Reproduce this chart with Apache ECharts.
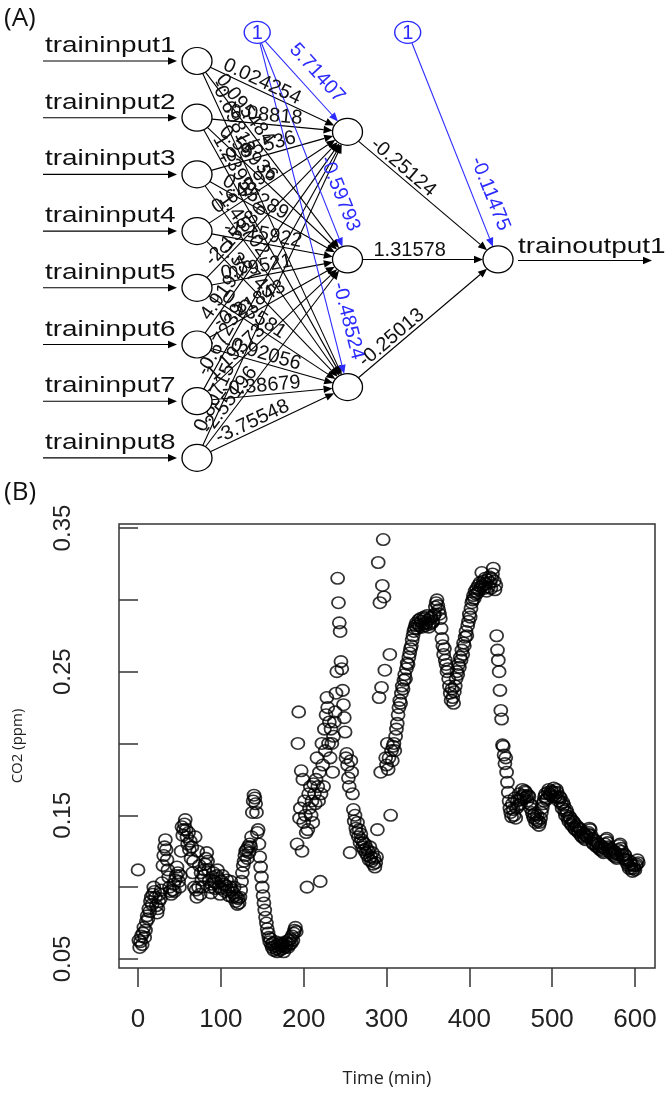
<!DOCTYPE html>
<html>
<head>
<meta charset="utf-8">
<style>
  html, body { margin: 0; padding: 0; background: #fff; }
  #chart { width: 668px; height: 1095px; }
</style>
<script src="https://cdn.jsdelivr.net/npm/echarts@6/dist/echarts.min.js"></script>
</head>
<body>
<div id="chart"></div>
<script>
// ---- (A) network: names and weights ----
const inputNames = ['traininput1', 'traininput2', 'traininput3', 'traininput4',
  'traininput5', 'traininput6', 'traininput7', 'traininput8'];
const outputNames = ['trainoutput1'];
const hiddenCount = 3;
// rows = input node, columns = hidden node
const wInputHidden = [
  [0.024254, 0.095484, -0.69818],
  [-0.08818, 0.55936, 1.23957],
  [-0.95536, 0.35289, -1.45702],
  [0.64393, -1.15922, 0.33745],
  [-2.15886, 0.79521, 0.63581],
  [4.91927, -0.21843, -0.92056],
  [-0.67239, 1.19373, -0.38679],
  [0.80715, -2.55196, -3.75548]
];
const wBiasHidden = [5.71407, -0.59793, -0.48524];
const wHiddenOutput = [-0.25124, 1.31578, -0.25013];
const wBiasOutput = [-0.11475];

// ---- (B) CO2 series, [time (min), CO2] ----
const co2Seg1 = [[0,0.112],[1,0.063],[2,0.058],[3,0.062],[4,0.066],[5,0.060],[6,0.068],[7,0.072],[8,0.065],[9,0.070],
  [10,0.076],[11,0.080],[12,0.078],[13,0.085],[14,0.083],[15,0.090],[16,0.093],[17,0.088],[18,0.095],[19,0.100],
  [20,0.097],[21,0.093],[22,0.087],[23,0.082],[24,0.085],[25,0.090],[26,0.095],[27,0.092],[28,0.098],[29,0.103],
  [30,0.115],[31,0.122],[32,0.128],[33,0.133],[34,0.126],[35,0.119],[36,0.112],[37,0.107],[38,0.100],[39,0.097],
  [40,0.095],[42,0.098],[43,0.102],[44,0.097],[45,0.105],[46,0.108],[47,0.114],[48,0.110],[49,0.104],[50,0.100],
  [51,0.108],[52,0.125],[53,0.142],[54,0.136],[55,0.140],[56,0.144],[57,0.147],[58,0.140],[59,0.135],[60,0.130],
  [61,0.138],[62,0.126],[63,0.132],[64,0.120],[65,0.128],[66,0.110],[67,0.118],[68,0.100],[69,0.135],[70,0.098],
  [71,0.093],[72,0.125],[73,0.100],[74,0.115],[75,0.095],[76,0.110],[77,0.105],[78,0.100],[79,0.108],[80,0.112],
  [81,0.116],[82,0.120],[83,0.124],[84,0.118],[85,0.112],[86,0.105],[87,0.100],[88,0.096],[89,0.102],[90,0.107],
  [91,0.110],[92,0.104],[93,0.099],[94,0.103],[95,0.108],[96,0.112],[97,0.106],[98,0.100],[99,0.095],[100,0.099],
  [101,0.104],[102,0.108],[104,0.102],[105,0.097],[106,0.101],[107,0.105],[108,0.098],[110,0.094],[111,0.100],[112,0.104],
  [113,0.098],[114,0.093],[115,0.096],[116,0.100],[117,0.094],[118,0.090],[119,0.093],[120,0.088],[121,0.092],[122,0.089],
  [123,0.093],[124,0.098],[125,0.104]];
const co2Seg2 = [[126,0.110],[127,0.115],[128,0.118],[129,0.122],[130,0.125],[131,0.126],[132,0.120],[133,0.128],[134,0.124],[135,0.130],
  [136,0.128],[137,0.135],[138,0.152],[139,0.160],[140,0.164],[141,0.162],[142,0.158],[143,0.152],[144,0.138],[145,0.140],
  [146,0.130],[147,0.121],[148,0.114],[149,0.107],[150,0.100],[151,0.094],[152,0.089],[153,0.084],[154,0.079],[155,0.075],
  [156,0.071],[157,0.068],[158,0.065],[159,0.062],[160,0.064],[161,0.060],[162,0.058],[163,0.061],[164,0.056],[165,0.059],
  [166,0.062],[167,0.057],[168,0.055],[169,0.060],[170,0.058],[171,0.056],[172,0.061],[173,0.059],[174,0.057],[175,0.060],
  [176,0.055],[177,0.058],[178,0.062],[179,0.059],[180,0.061],[181,0.058],[182,0.063],[183,0.060],[184,0.064],[185,0.061],
  [186,0.066],[187,0.063],[188,0.068],[189,0.070],[190,0.072],[191,0.069]];
const co2Seg3 = [[192,0.130],[193,0.200],[194,0.222],[195,0.148],[196,0.155],[197,0.181],[198,0.125],[199,0.175],[200,0.145],
  [201,0.160],[202,0.150],[203,0.138],[204,0.100],[205,0.140],[206,0.165],[207,0.155],[208,0.170],[209,0.150],[210,0.160],
  [211,0.145],[212,0.172],[213,0.165],[214,0.158],[215,0.175],[216,0.190],[217,0.170],[218,0.160],[219,0.180],[220,0.104],
  [221,0.165],[222,0.200],[223,0.185],[224,0.170],[225,0.210],[226,0.195],[227,0.220],[228,0.232],[229,0.225],[230,0.200],
  [231,0.215],[232,0.190],[233,0.210],[234,0.200],[235,0.180],[236,0.205],[237,0.215],[238,0.222],[239,0.235],[240,0.250],
  [241,0.315],[242,0.298],[243,0.284],[244,0.278],[245,0.257],[246,0.252],[247,0.237],[248,0.227],[249,0.218],[250,0.208],
  [251,0.190],[252,0.193],[253,0.185],[254,0.176],[255,0.170],[256,0.124],[257,0.188],[258,0.180],[259,0.165],[260,0.154],
  [261,0.146],[262,0.150],[263,0.141],[264,0.138],[265,0.145],[266,0.135],[267,0.140],[268,0.131],[269,0.137],[270,0.133],
  [271,0.128],[272,0.131],[273,0.126],[274,0.130],[275,0.124],[276,0.127],[277,0.122],[278,0.125],[279,0.119],[280,0.128],
  [281,0.121],[282,0.118],[283,0.124],[284,0.116],[285,0.120],[286,0.114],[287,0.117],[288,0.121],[289,0.140]];
const co2Seg4 = [[290,0.326],[291,0.232],[292,0.298],[293,0.180],[294,0.239],[295,0.310],[296,0.342],[297,0.302],[298,0.251],
  [299,0.190],[300,0.185],[301,0.200],[302,0.182],[303,0.190],[304,0.262],[305,0.150],[306,0.195],[307,0.188],[308,0.198],
  [309,0.200],[310,0.195],[311,0.205],[312,0.210],[313,0.214],[314,0.220],[315,0.225],[316,0.230],[317,0.228],[318,0.235],
  [319,0.240],[320,0.238],[321,0.244],[322,0.248],[323,0.245],[324,0.252],[325,0.256],[326,0.255],[327,0.260],[328,0.263],
  [329,0.266],[330,0.268],[331,0.272],[332,0.275],[333,0.278],[334,0.280],[335,0.282],[336,0.284],[337,0.280],[338,0.283],
  [339,0.286],[340,0.282],[341,0.287],[342,0.285],[343,0.281],[344,0.283],[345,0.288],[346,0.287],[347,0.282],[348,0.284],
  [349,0.289],[350,0.286],[351,0.281],[352,0.283],[353,0.287],[354,0.288],[355,0.284],[356,0.285],[357,0.289],[358,0.290],
  [359,0.295],[360,0.298],[361,0.300],[362,0.296],[363,0.293],[364,0.290],[365,0.287]];
const co2Seg5 = [[366,0.280],[367,0.273],[368,0.268],[369,0.262],[370,0.266],[371,0.258],[372,0.255],[373,0.250],[374,0.252],
  [375,0.245],[376,0.240],[377,0.235],[378,0.230],[379,0.238],[380,0.232],[381,0.228],[382,0.236],[383,0.240],[384,0.245],
  [385,0.250],[386,0.248],[387,0.255],[388,0.253],[389,0.260],[390,0.258],[391,0.265],[392,0.262],[393,0.270],[394,0.268],
  [395,0.274],[396,0.278],[397,0.275],[398,0.282],[399,0.285],[400,0.290],[401,0.288],[402,0.294],[403,0.298],[404,0.300],
  [405,0.303],[406,0.301],[407,0.306],[408,0.304],[409,0.308],[410,0.305],[411,0.310],[412,0.307],[413,0.312],[414,0.309],
  [415,0.319],[416,0.310],[417,0.313],[418,0.308],[419,0.315],[420,0.311],[421,0.306],[422,0.314],[423,0.309],[424,0.316],
  [425,0.312],[426,0.308],[427,0.315],[428,0.318],[429,0.322],[430,0.313],[431,0.307],[432,0.310],[433,0.275],[434,0.265],
  [435,0.258],[436,0.250],[437,0.237],[438,0.223],[439,0.217],[440,0.199]];
const co2Seg6 = [[441,0.198],[442,0.192],[443,0.186],[444,0.190],[445,0.180],[446,0.173],[447,0.166],[448,0.160],[449,0.155],
  [450,0.152],[451,0.149],[452,0.158],[453,0.154],[454,0.150],[455,0.162],[456,0.148],[457,0.155],[458,0.160],[459,0.157],
  [460,0.165],[461,0.161],[462,0.158],[463,0.163],[464,0.168],[465,0.164],[466,0.162],[467,0.167],[468,0.166],[469,0.163],
  [470,0.160],[471,0.164],[472,0.163],[473,0.158],[474,0.155],[475,0.157],[476,0.152],[477,0.150],[478,0.148],[479,0.151],
  [480,0.145],[481,0.147],[482,0.150],[483,0.146],[484,0.143],[485,0.145],[486,0.148],[487,0.152],[488,0.155],[489,0.158],
  [490,0.160],[491,0.163],[492,0.165],[493,0.161],[494,0.162],[495,0.166],[496,0.168],[497,0.165],[498,0.164],[499,0.167],
  [500,0.166],[501,0.163],[502,0.169],[503,0.166],[504,0.163],[505,0.168],[506,0.166],[507,0.162],[508,0.160],[509,0.163],
  [510,0.162],[511,0.158],[512,0.155],[513,0.159],[514,0.157],[515,0.153],[516,0.150],[517,0.154],[518,0.152],[519,0.148],
  [520,0.146],[521,0.149],[522,0.148],[523,0.144],[524,0.143],[525,0.146],[526,0.145],[527,0.141],[528,0.140],[529,0.143],
  [530,0.142],[531,0.139],[532,0.138],[533,0.141],[534,0.140],[535,0.136],[536,0.135],[537,0.138],[538,0.137],[539,0.134],
  [540,0.133],[541,0.136],[542,0.135],[543,0.137],[544,0.138],[545,0.141],[546,0.140],[547,0.136],[548,0.134],[549,0.131],
  [550,0.130],[551,0.133],[552,0.132],[553,0.129],[554,0.128],[555,0.131],[556,0.130],[557,0.127],[558,0.126],[559,0.129],
  [560,0.128],[561,0.125],[562,0.124],[563,0.127],[564,0.130],[565,0.133],[566,0.134],[567,0.131],[568,0.128],[569,0.125],
  [570,0.124],[571,0.127],[572,0.126],[573,0.123],[574,0.122],[575,0.125],[576,0.124],[577,0.121],[578,0.120],[579,0.123],
  [580,0.126],[581,0.129],[582,0.130],[583,0.127],[584,0.125],[585,0.122],[586,0.120],[587,0.123],[588,0.122],[589,0.119],
  [590,0.117],[591,0.119],[592,0.115],[593,0.113],[594,0.118],[595,0.116],[596,0.113],[597,0.111],[598,0.115],[599,0.113],
  [600,0.112],[601,0.115],[602,0.116],[603,0.119],[604,0.117]];

const xTicks = [0, 100, 200, 300, 400, 500, 600];
const yTicks = [0.05, 0.10, 0.15, 0.20, 0.25, 0.30, 0.35];
const yLabelTicks = [0.05, 0.15, 0.25, 0.35];

// ---- styling ----
const FONT = '"Liberation Sans", Arial, sans-serif';
const blue = '#2b2bff';
const nodeRx = 15, nodeRy = 13.5, biasRx = 13, biasRy = 11;
const arrowLen = 9, arrowHalf = 3.8;
const biasShift = 0.4;   // bias node sits 40% of the way to the next layer
const biasLevel = 0.055;

// node layout: node j of a layer of n sits at (j+1)/(n+1) of the height
function layerY(j, n) { return (j + 1) / (n + 1); }

const nodes = [];
const edges = [];
inputNames.forEach((name, i) => nodes.push({ x: 0, y: layerY(i, inputNames.length), kind: 'input', name }));
for (let h = 0; h < hiddenCount; h++) nodes.push({ x: 1, y: layerY(h, hiddenCount), kind: 'hidden' });
outputNames.forEach((name, o) => nodes.push({ x: 2, y: layerY(o, outputNames.length), kind: 'output', name }));
nodes.push({ x: biasShift, y: biasLevel, kind: 'bias' });
nodes.push({ x: 1 + biasShift, y: biasLevel, kind: 'bias' });

inputNames.forEach((_, i) => {
  for (let h = 0; h < hiddenCount; h++) {
    edges.push({ x1: 0, y1: layerY(i, inputNames.length), x2: 1, y2: layerY(h, hiddenCount), w: wInputHidden[i][h], bias: false });
  }
});
for (let h = 0; h < hiddenCount; h++) {
  edges.push({ x1: biasShift, y1: biasLevel, x2: 1, y2: layerY(h, hiddenCount), w: wBiasHidden[h], bias: true });
}
for (let h = 0; h < hiddenCount; h++) {
  edges.push({ x1: 1, y1: layerY(h, hiddenCount), x2: 2, y2: layerY(0, 1), w: wHiddenOutput[h], bias: false });
}
edges.push({ x1: 1 + biasShift, y1: biasLevel, x2: 2, y2: layerY(0, 1), w: wBiasOutput[0], bias: true });

function reach(rx, ry, ux, uy) {
  return 1 / Math.sqrt((ux * ux) / (rx * rx) + (uy * uy) / (ry * ry));
}

function arrowParts(x1, y1, x2, y2, color) {
  const len = Math.hypot(x2 - x1, y2 - y1);
  const ux = (x2 - x1) / len, uy = (y2 - y1) / len;
  const bx = x2 - ux * arrowLen, by = y2 - uy * arrowLen;
  const nx = uy, ny = -ux;
  return [
    { type: 'line', shape: { x1, y1, x2: bx, y2: by }, style: { stroke: color, lineWidth: 1.1 } },
    { type: 'polygon', shape: { points: [[x2, y2], [bx + nx * arrowHalf, by + ny * arrowHalf], [bx - nx * arrowHalf, by - ny * arrowHalf]] },
      style: { fill: color } }
  ];
}

function edgeGeom(params, api) {
  const e = edges[params.dataIndex];
  const a = api.coord([api.value(0), api.value(1)]);
  const b = api.coord([api.value(2), api.value(3)]);
  const dx = b[0] - a[0], dy = b[1] - a[1];
  const len = Math.hypot(dx, dy);
  return { e, a, b, len, ux: dx / len, uy: dy / len };
}

function renderEdge(params, api) {
  const g = edgeGeom(params, api);
  const color = g.e.bias ? blue : '#000';
  const r0 = g.e.bias ? reach(biasRx, biasRy, g.ux, g.uy) : reach(nodeRx, nodeRy, g.ux, g.uy);
  const r1 = reach(nodeRx, nodeRy, g.ux, g.uy);
  return {
    type: 'group',
    children: arrowParts(g.a[0] + g.ux * r0, g.a[1] + g.uy * r0, g.b[0] - g.ux * r1, g.b[1] - g.uy * r1, color)
  };
}

function textStyle(text, fill, size, align, vAlign) {
  return { text, fill, fontSize: size, fontFamily: FONT, align, verticalAlign: vAlign, textAlign: align, textVerticalAlign: vAlign };
}

function renderWeight(params, api) {
  const g = edgeGeom(params, api);
  const nx = g.uy, ny = -g.ux;
  const along = g.e.bias ? g.len - 64 : 26;
  const lift = g.e.bias ? 17 : 9;
  return {
    type: 'text',
    x: g.a[0] + g.ux * along + nx * lift,
    y: g.a[1] + g.uy * along + ny * lift,
    rotation: -Math.atan2(g.uy, g.ux),
    style: textStyle(String(g.e.w), g.e.bias ? blue : '#111', 20, g.e.bias ? 'center' : 'left', 'middle')
  };
}

function renderNode(params, api) {
  const n = nodes[params.dataIndex];
  const p = api.coord([api.value(0), api.value(1)]);
  const isBias = n.kind === 'bias';
  const rx = isBias ? biasRx : nodeRx, ry = isBias ? biasRy : nodeRy;
  const children = [{
    type: 'circle', x: p[0], y: p[1], scaleX: rx / ry,
    shape: { cx: 0, cy: 0, r: ry },
    style: { fill: '#fff', stroke: isBias ? blue : '#000', lineWidth: 1.2 }
  }];
  if (isBias) {
    children.push({ type: 'text', x: p[0], y: p[1] + 1, style: textStyle('1', blue, 20, 'center', 'middle') });
  }
  if (n.kind === 'input') {
    children.push(...arrowParts(p[0] - 154, p[1], p[0] - 20, p[1], '#000'));
    children.push({ type: 'text', x: p[0] - 152, y: p[1] - 15, scaleX: 1.27,
      style: textStyle(n.name, '#111', 22, 'left', 'middle') });
  }
  if (n.kind === 'output') {
    children.push(...arrowParts(p[0] + 20, p[1] + 1, p[0] + 154, p[1] + 1, '#000'));
    children.push({ type: 'text', x: p[0] + 20, y: p[1] - 13, scaleX: 1.27,
      style: textStyle(n.name, '#111', 22, 'left', 'middle') });
  }
  return { type: 'group', children };
}

const co2Points = [].concat(co2Seg1, co2Seg2, co2Seg3, co2Seg4, co2Seg5, co2Seg6);

const chart = echarts.init(document.getElementById('chart'));
chart.setOption({
  animation: false,
  backgroundColor: '#fff',
  title: [
    { text: '(A)', left: 4, top: 6, padding: 0, textStyle: { fontSize: 26, fontWeight: 'normal', fontFamily: 'Open Sans', color: '#111' } },
    { text: '(B)', left: 4, top: 480, padding: 0, textStyle: { fontSize: 26, fontWeight: 'normal', fontFamily: 'Open Sans', color: '#111' } }
  ],
  grid: [
    { left: 197, right: 170, top: 4.3, bottom: 580.4, show: false },
    { left: 119, right: 13, top: 524, bottom: 127, show: true, borderColor: '#333', borderWidth: 1.5, backgroundColor: 'transparent' }
  ],
  xAxis: [
    { type: 'value', gridIndex: 0, min: 0, max: 2, show: false },
    {
      type: 'value', gridIndex: 1, min: -23, max: 624.2,
      axisLine: { show: false },
      splitLine: { show: false },
      axisTick: { show: true, customValues: xTicks, length: 19, lineStyle: { color: '#333', width: 1.5 } },
      axisLabel: { customValues: xTicks, fontSize: 26, fontFamily: FONT, color: '#222', margin: 39 },
      name: 'Time (min)', nameLocation: 'middle', nameGap: 102,
      nameTextStyle: { fontSize: 18, fontFamily: 'Open Sans', color: '#222' }
    }
  ],
  yAxis: [
    { type: 'value', gridIndex: 0, min: 0, max: 1, inverse: true, show: false },
    {
      type: 'value', gridIndex: 1, min: 0.0437, max: 0.3528,
      axisLine: { show: false },
      splitLine: { show: false },
      axisTick: { show: true, customValues: yTicks, length: 19, lineStyle: { color: '#333', width: 1.5 } },
      axisLabel: { customValues: yLabelTicks, rotate: 90, fontSize: 24, fontFamily: FONT, color: '#222', margin: 44,
        formatter: v => v.toFixed(2) },
      name: 'CO2 (ppm)', nameLocation: 'middle', nameGap: 94,
      nameTextStyle: { fontSize: 15, fontFamily: 'Open Sans', color: '#222' }
    }
  ],
  series: [
    { type: 'custom', name: 'edges', xAxisIndex: 0, yAxisIndex: 0, silent: true, z: 2,
      encode: { x: [0, 2], y: [1, 3] },
      data: edges.map(e => [e.x1, e.y1, e.x2, e.y2]), renderItem: renderEdge },
    { type: 'custom', name: 'weights', xAxisIndex: 0, yAxisIndex: 0, silent: true, z: 3,
      encode: { x: [0, 2], y: [1, 3] },
      data: edges.map(e => [e.x1, e.y1, e.x2, e.y2]), renderItem: renderWeight },
    { type: 'custom', name: 'nodes', xAxisIndex: 0, yAxisIndex: 0, silent: true, z: 4,
      encode: { x: 0, y: 1 },
      data: nodes.map(n => [n.x, n.y]), renderItem: renderNode },
    {
      type: 'scatter', name: 'CO2', xAxisIndex: 1, yAxisIndex: 1, silent: true, z: 5,
      symbol: 'path://M0,1A1,1 0 1,1 2,1A1,1 0 1,1 0,1Z',
      symbolSize: [13, 11.5],
      itemStyle: { color: 'transparent', borderColor: '#000', borderWidth: 1.7 },
      data: co2Points
    }
  ]
});
</script>
</body>
</html>
